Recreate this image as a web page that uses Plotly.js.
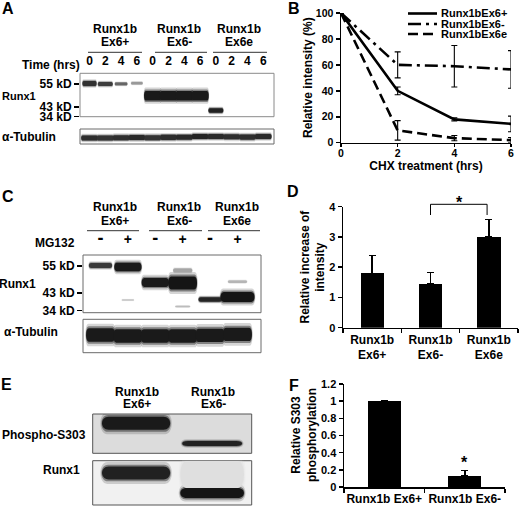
<!DOCTYPE html>
<html><head><meta charset="utf-8">
<script src="https://cdn.plot.ly/plotly-3.0.1.min.js"></script>
<style>html,body{margin:0;padding:0;background:#fff}#chart{width:520px;height:506px}</style>
</head><body><div id="chart"></div>
<script>
// ================= DATA =================
// Panel B: CHX chase
const chxHours = [0, 2, 4, 6];
const seriesNamesB = ['Runx1bEx6+', 'Runx1bEx6-', 'Runx1bEx6e'];
const ex6PlusIntensity = [100, 40, 18, 14.5];
const ex6PlusErr = [null, 3, 1.2, 6];
const ex6MinusIntensity = [100, 60, 59, 56.5];
const ex6MinusErr = [null, 10, 16, 14.5];
const ex6eIntensity = [100, 9.5, 3.5, 2];
const ex6eErr = [null, 7.5, 2, 2];
// Panel D: MG132 relative increase
const isoformLine1 = ['Runx1b', 'Runx1b', 'Runx1b'];
const isoformLine2 = ['Ex6+', 'Ex6-', 'Ex6e'];
const mg132Increase = [1.8, 1.45, 3.0];
const mg132IncreaseErr = [0.58, 0.37, 0.57];
// Panel F: S303 phosphorylation
const phosphoCats = ['Runx1b Ex6+', 'Runx1b Ex6-'];
const s303Phospho = [1.0, 0.13];
const s303PhosphoErr = [null, 0.06];
// Axis titles
const titleB = ['CHX treatment (hrs)', 'Relative intensity (%)'];
const titleD = 'Relative increase of<br>intensity';
const titleF = 'Relative S303<br>phosphorylation';
// Blot labels
const timePoints = ['0', '2', '4', '6'];
const mg132States = ['-', '+'];
const kdMarkers = ['55 kD', '43 kD', '34 kD'];
// Blot A (CHX) — Runx1 bands: lane, migration (0 top .. 1 bottom), thickness, width (lanes), density
const aRunxLane = [1, 2, 3, 4, 5, 6, 7, 8, 9];
const aRunxPos = [0.235, 0.247, 0.243, 0.228, 0.516, 0.516, 0.516, 0.516, 0.857];
const aRunxThick = [0.115, 0.092, 0.065, 0.058, 0.22, 0.22, 0.22, 0.22, 0.104];
const aRunxWidth = [0.9, 0.95, 0.8, 0.75, 1.1, 1.1, 1.1, 1.1, 0.95];
const aRunxDensity = [0.85, 0.8, 0.62, 0.4, 0.95, 0.95, 0.95, 0.95, 0.92];
const aMarkerPos = [0.247, 0.776, 1.0];
const aTubLane = [1, 2, 3, 4, 5, 6, 7, 8, 9, 10, 11, 12];
const aTubPos = [0.6, 0.6, 0.58, 0.57, 0.58, 0.56, 0.55, 0.5, 0.5, 0.52, 0.54, 0.5];
const aTubDensity = [0.86, 0.84, 0.86, 0.88, 0.84, 0.86, 0.88, 0.9, 0.88, 0.86, 0.86, 0.88];
// Blot C (MG132)
const cRunxLane = [1, 2, 2, 3, 4, 4, 4, 5, 6, 6];
const cRunxPos = [0.182, 0.208, 0.78, 0.477, 0.485, 0.269, 0.893, 0.771, 0.728, 0.463];
const cRunxThick = [0.087, 0.147, 0.026, 0.156, 0.225, 0.069, 0.026, 0.078, 0.173, 0.043];
const cRunxWidth = [0.85, 1.0, 0.45, 1.0, 1.05, 0.7, 0.55, 0.85, 1.25, 0.7];
const cRunxDensity = [0.82, 0.95, 0.2, 0.95, 0.97, 0.35, 0.25, 0.9, 0.97, 0.28];
const cMarkerPos = [0.19, 0.655, 0.965];
const cTubLane = [1, 2, 3, 4, 5, 6];
const cTubPos = [0.47, 0.5, 0.5, 0.5, 0.48, 0.45];
const cTubDensity = [0.95, 0.95, 0.95, 0.95, 0.95, 0.95];
// Blot E (phospho-S303)
const ePhosLane = [1, 2];
const ePhosPos = [0.237, 0.751];
const ePhosThick = [0.33, 0.127];
const ePhosWidth = [0.9, 0.79];
const ePhosDensity = [0.95, 0.92];
const eRunxLane = [2, 1, 2];
const eRunxPos = [0.312, 0.278, 0.729];
const eRunxThick = [0.61, 0.29, 0.226];
const eRunxWidth = [0.84, 0.9, 0.84];
const eRunxDensity = [0.1, 0.92, 0.97];

// ================= LAYOUT HELPERS =================
const W = 520, H = 506;
const X = p => p / W;
const Y = p => 1 - p / H;
const FONT = 'Liberation Sans, Arial, Helvetica, sans-serif';
const f = (size) => ({family: FONT, size: size, color: '#000', weight: 'bold'});

const traces = [];
const shapes = [];
const annotations = [];

function txt(text, x, y, size, xanchor, extra) {
  annotations.push(Object.assign({text: text, x: X(x), y: Y(y), xref: 'paper', yref: 'paper',
    showarrow: false, xanchor: xanchor || 'center', yanchor: 'middle', font: f(size || 12)}, extra || {}));
}
function hline(x0, x1, y, color, width) {
  shapes.push({type: 'line', xref: 'paper', yref: 'paper', x0: X(x0), x1: X(x1), y0: Y(y), y1: Y(y),
    line: {color: color || '#000', width: width || 1}});
}
function gray(d) { const v = Math.round(246 - 232 * d); return 'rgb(' + v + ',' + v + ',' + v + ')'; }
function capsule(xc, w, yc, th) {
  const xa = xc - w / 2, xb = xc + w / 2, ya = yc - th / 2, yb = yc + th / 2, r = w * 0.1;
  const n = v => v.toFixed(4);
  return 'M' + n(xa + r) + ',' + n(ya) + ' L' + n(xb - r) + ',' + n(ya) +
    ' C' + n(xb + 0.3 * r) + ',' + n(ya) + ' ' + n(xb + 0.3 * r) + ',' + n(yb) + ' ' + n(xb - r) + ',' + n(yb) +
    ' L' + n(xa + r) + ',' + n(yb) +
    ' C' + n(xa - 0.3 * r) + ',' + n(yb) + ' ' + n(xa - 0.3 * r) + ',' + n(ya) + ' ' + n(xa + r) + ',' + n(ya) + ' Z';
}
function bands(xr, yr, lanes, pos, thick, width, dens) {
  // soft blur: two translucent halos, then the band core
  [[1.7, 1.05, 0.18], [1.3, 1.02, 0.45]].forEach(h => {
    lanes.forEach((ln, i) => shapes.push({type: 'path', xref: xr, yref: yr,
      path: capsule(ln, width[i] * h[1], pos[i], thick[i] * h[0]), fillcolor: gray(dens[i]), opacity: h[2],
      line: {width: 0}}));
  });
  lanes.forEach((ln, i) => shapes.push({type: 'path', xref: xr, yref: yr,
    path: capsule(ln, width[i], pos[i], thick[i]), fillcolor: gray(dens[i]), line: {width: 0}}));
}
function frame(xr, yr, fill, color) {
  shapes.push({type: 'rect', xref: xr + ' domain', yref: yr + ' domain', x0: 0, x1: 1, y0: 0, y1: 1,
    fillcolor: fill, line: {color: color, width: 1}, layer: 'below'});
}
function anchorTrace(xa, ya) {
  traces.push({type: 'scatter', mode: 'markers', x: [1], y: [0.5], xaxis: xa, yaxis: ya,
    marker: {opacity: 0}, hoverinfo: 'skip', showlegend: false});
}

// ================= PANEL B =================
const bY = [ex6PlusIntensity, ex6MinusIntensity, ex6eIntensity];
const bErr = [ex6PlusErr, ex6MinusErr, ex6eErr];
const bDash = ['solid', '13px,5px,3px,5px', '10px,5px'];
seriesNamesB.forEach((name, i) => {
  traces.push({type: 'scatter', mode: 'lines', name: name, x: chxHours, y: bY[i], xaxis: 'x', yaxis: 'y',
    line: {color: '#000', width: 2.6, dash: bDash[i]}, cliponaxis: false, showlegend: false,
    error_y: {type: 'data', array: bErr[i], visible: true, color: '#000', thickness: 1.1, width: 3}});
  // manual legend
  const ly = [13.5, 24, 34][i];
  shapes.push({type: 'line', xref: 'paper', yref: 'paper', x0: X(408), x1: X(437), y0: Y(ly), y1: Y(ly),
    line: {color: '#000', width: 2.6, dash: bDash[i]}});
  txt(name, 439, ly, 11, 'left');
});
txt(titleB[1], 308, 78, 12, 'center', {textangle: -90});

// ================= PANEL D =================
const dCats = isoformLine1.map((a, i) => a + '<br>' + isoformLine2[i]);
traces.push({type: 'bar', x: dCats, y: mg132Increase, xaxis: 'x2', yaxis: 'y2', width: 0.4,
  marker: {color: '#000'}, showlegend: false,
  error_y: {type: 'data', symmetric: false, array: mg132IncreaseErr, arrayminus: mg132Increase.map(() => 0),
    color: '#000', thickness: 1.5, width: 3.5}});
shapes.push({type: 'path', xref: 'x2', yref: 'paper',
  path: 'M1,' + Y(215) + ' L1,' + Y(204.3) + ' L1.97,' + Y(204.3) + ' L1.97,' + Y(215),
  line: {color: '#000', width: 1}});
annotations.push({text: '*', xref: 'x2', yref: 'paper', x: 1.5, y: Y(202), showarrow: false,
  xanchor: 'center', yanchor: 'middle', font: f(16)});
txt(titleD, 312.5, 267, 12, 'center', {textangle: -90});

// ================= PANEL F =================
traces.push({type: 'bar', x: phosphoCats, y: s303Phospho, xaxis: 'x3', yaxis: 'y3', width: 0.41,
  marker: {color: '#000'}, showlegend: false,
  error_y: {type: 'data', symmetric: false, array: s303PhosphoErr, arrayminus: s303Phospho.map(() => 0),
    color: '#000', thickness: 1.5, width: 3.5}});
annotations.push({text: '*', xref: 'x3', yref: 'paper', x: 1, y: Y(462), showarrow: false,
  xanchor: 'center', yanchor: 'middle', font: f(16)});
txt(titleF, 303.5, 435.5, 12, 'center', {textangle: -90});

// ================= BLOTS =================
// A
bands('x4', 'y4', aRunxLane, aRunxPos, aRunxThick, aRunxWidth, aRunxDensity);
bands('x4', 'y5', aTubLane, aTubPos, aTubLane.map(() => 0.34), aTubLane.map(() => 1.06), aTubDensity);
frame('x4', 'y4', '#ffffff', '#8a8a8a');
frame('x4', 'y5', '#ffffff', '#6a6a6a');
anchorTrace('x4', 'y4'); anchorTrace('x4', 'y5');
// C
bands('x6', 'y6', cRunxLane, cRunxPos, cRunxThick, cRunxWidth, cRunxDensity);
bands('x6', 'y7', cTubLane, cTubPos, cTubLane.map(() => 0.4), cTubLane.map(() => 1.06), cTubDensity);
frame('x6', 'y6', '#ffffff', '#6a6a6a');
frame('x6', 'y7', '#ffffff', '#6a6a6a');
anchorTrace('x6', 'y6'); anchorTrace('x6', 'y7');
// E
bands('x8', 'y8', ePhosLane, ePhosPos, ePhosThick, ePhosWidth, ePhosDensity);
bands('x8', 'y9', eRunxLane, eRunxPos, eRunxThick, eRunxWidth, eRunxDensity);
frame('x8', 'y8', '#dcdcdc', '#555555');
frame('x8', 'y9', '#f1f1f1', '#555555');
anchorTrace('x8', 'y8'); anchorTrace('x8', 'y9');

// Panel letters
txt('A', 7.5, 8, 16); txt('B', 293.5, 8.5, 16); txt('C', 7.5, 196, 16);
txt('D', 293, 191.5, 16); txt('E', 6, 384, 16); txt('F', 293.5, 385, 16);
// A headers
[115, 179, 239].forEach((x, i) => { txt(isoformLine1[i], x, 29); txt(isoformLine2[i], x, 42); });
[[88, 142], [155, 207], [213, 267]].forEach(s => hline(s[0], s[1], 52.3, '#333', 1));
txt('Time (hrs)', 82, 65, 12, 'right');
txt('Runx1', 0, 96, 11, 'left');
txt('\u03b1-Tubulin', 0, 137, 12, 'left');
// C headers
[115, 179, 236.7].forEach((x, i) => { txt(isoformLine1[i], x, 206.7); txt(isoformLine2[i], x, 220.7); });
[[87, 139], [149, 202], [208, 260]].forEach(s => hline(s[0], s[1], 230.7, '#333', 1));
txt('MG132', 77, 243, 12, 'right');
txt('Runx1', 38, 284, 12, 'right');
txt('\u03b1-Tubulin', 2, 332.3, 12, 'left');
// E headers
[136.7, 213.3].forEach((x, i) => { txt(isoformLine1[i], x, 391.7); txt(isoformLine2[i], x, 404); });
txt('Phospho-S303', 0, 435, 12, 'left');
txt('Runx1', 82, 470, 12, 'right');

// ================= AXES =================
const base = {showgrid: false, zeroline: false, fixedrange: true};
const line = {showline: true, linecolor: '#000', linewidth: 1.5, ticks: 'outside', ticklen: 4, tickwidth: 1.5, tickcolor: '#000'};
const lanesN = n => Array.from({length: n}, (_, i) => i + 1);
const aLaneText = [].concat(timePoints, timePoints, timePoints);
const bigMinus = s => s === '-' ? '<span style="font-size:18px">-</span>' : s;
const cLaneText = [].concat(mg132States, mg132States, mg132States).map(bigMinus);

const layout = {
  width: W, height: H, margin: {l: 0, r: 0, t: 0, b: 0}, paper_bgcolor: '#fff', plot_bgcolor: 'rgba(0,0,0,0)',
  font: f(12), showlegend: false, bargap: 0,
  xaxis: Object.assign({}, base, line, {domain: [X(341), X(511)], range: [0, 6], anchor: 'y', tickvals: chxHours,
    ticklen: 3, ticklabelstandoff: -3,
    tickfont: f(10.5), title: {text: titleB[0], font: f(12), standoff: 4}}),
  yaxis: Object.assign({}, base, line, {domain: [Y(142.7), Y(13)], range: [0, 100], dtick: 20, anchor: 'x',
    tickfont: f(10.5)}),
  xaxis2: Object.assign({}, base, line, {domain: [X(343), X(518)], type: 'category', range: [-0.5, 2.5], anchor: 'y2',
    tickson: 'boundaries', tickfont: f(12), tickangle: 0}),
  yaxis2: Object.assign({}, base, line, {domain: [Y(327.7), Y(206.7)], range: [0, 4], dtick: 1, anchor: 'x2',
    tickfont: f(11)}),
  xaxis3: Object.assign({}, base, line, {domain: [X(344), X(505)], type: 'category', range: [-0.5, 1.5], anchor: 'y3',
    tickson: 'boundaries', tickfont: f(12), tickangle: 0}),
  yaxis3: Object.assign({}, base, line, {domain: [Y(487), Y(384)], range: [0, 1.2], dtick: 0.2, anchor: 'x3',
    tickfont: f(11)}),
  // Blot A
  xaxis4: Object.assign({}, base, {domain: [X(80), X(274)], range: [0.399, 12.68], anchor: 'y4', side: 'top',
    tickvals: lanesN(12), ticktext: aLaneText, ticks: '', showline: false, tickfont: f(12), ticklabelstandoff: 5}),
  yaxis4: Object.assign({}, base, {domain: [Y(116.7), Y(73.3)], range: [1, 0], anchor: 'x4', tickvals: aMarkerPos,
    ticktext: kdMarkers, ticks: 'outside', ticklen: 5, tickwidth: 1.5, tickcolor: '#000', showline: false, tickfont: f(12)}),
  yaxis5: Object.assign({}, base, {domain: [Y(144), Y(129)], range: [1, 0], anchor: 'x4', showticklabels: false, ticks: ''}),
  // Blot C
  xaxis6: Object.assign({}, base, {domain: [X(83), X(261)], range: [0.361, 6.858], anchor: 'y6', side: 'top',
    tickvals: lanesN(6), ticktext: cLaneText, ticks: '', showline: false, tickfont: f(14), ticklabelstandoff: 7}),
  yaxis6: Object.assign({}, base, {domain: [Y(312.7), Y(255)], range: [1, 0], anchor: 'x6', tickvals: cMarkerPos,
    ticktext: kdMarkers, ticks: 'outside', ticklen: 5, tickwidth: 1.5, tickcolor: '#000', showline: false, tickfont: f(12)}),
  yaxis7: Object.assign({}, base, {domain: [Y(352.7), Y(319.3)], range: [1, 0], anchor: 'x6', showticklabels: false, ticks: ''}),
  // Blot E
  xaxis8: Object.assign({}, base, {domain: [X(92.7), X(251.7)], range: [0.43, 2.52], anchor: 'y8', showticklabels: false, ticks: ''}),
  yaxis8: Object.assign({}, base, {domain: [Y(453.3), Y(414)], range: [1, 0], anchor: 'x8', showticklabels: false, ticks: ''}),
  yaxis9: Object.assign({}, base, {domain: [Y(505), Y(460.7)], range: [1, 0], anchor: 'x8', showticklabels: false, ticks: ''}),
  shapes: shapes, annotations: annotations
};

Plotly.newPlot('chart', traces, layout, {staticPlot: true, displayModeBar: false});
</script></body></html>
